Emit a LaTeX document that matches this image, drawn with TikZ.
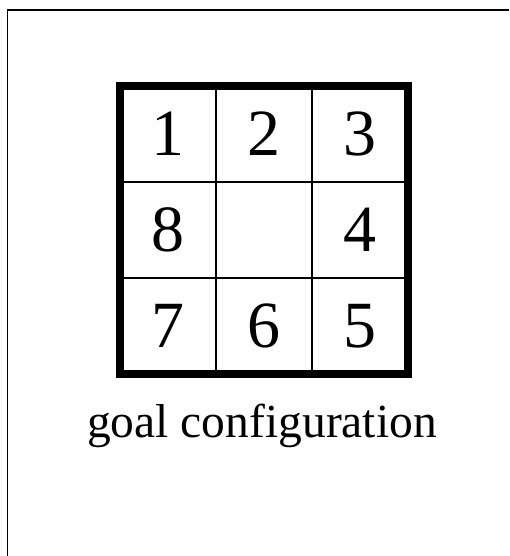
\documentclass[tikz,border=0pt]{standalone}
\usepackage{fontspec}
\setmainfont{Liberation Serif}
\usetikzlibrary{positioning}

\begin{document}
\begin{tikzpicture}[x=1pt,y=-1pt,
    tile/.style={draw,line width=2pt,minimum size=96pt,inner sep=0pt,outer sep=0pt,font=\fontsize{66}{72}\selectfont},
    caption/.style={font=\fontsize{47.5}{54}\selectfont,inner sep=0pt,anchor=base}]
  \useasboundingbox (0,0) rectangle (509,556);
  % frame of the page, open to the right and bottom
  \coordinate (fl) at (7.5,556);
  \coordinate (fc) at (7.5,10);
  \coordinate (fr) at (509,10);
  \draw[line width=1.2pt] (fl) -- (fc) -- (fr);
  % the tiles, row by row
  \foreach \r/\a/\b/\c in {1/1/2/3,2/8//4,3/7/6/5}{
    \node[tile] (t\r1) at (168,38+96*\r) {\a};
    \node[tile] (t\r2) at (264,38+96*\r) {\b};
    \node[tile] (t\r3) at (360,38+96*\r) {\c};
  }
  \draw[line width=8pt] (t11.north west) rectangle (t33.south east);
  \node[caption] (goal) at (262,437) {goal configuration};
\end{tikzpicture}
\end{document}
